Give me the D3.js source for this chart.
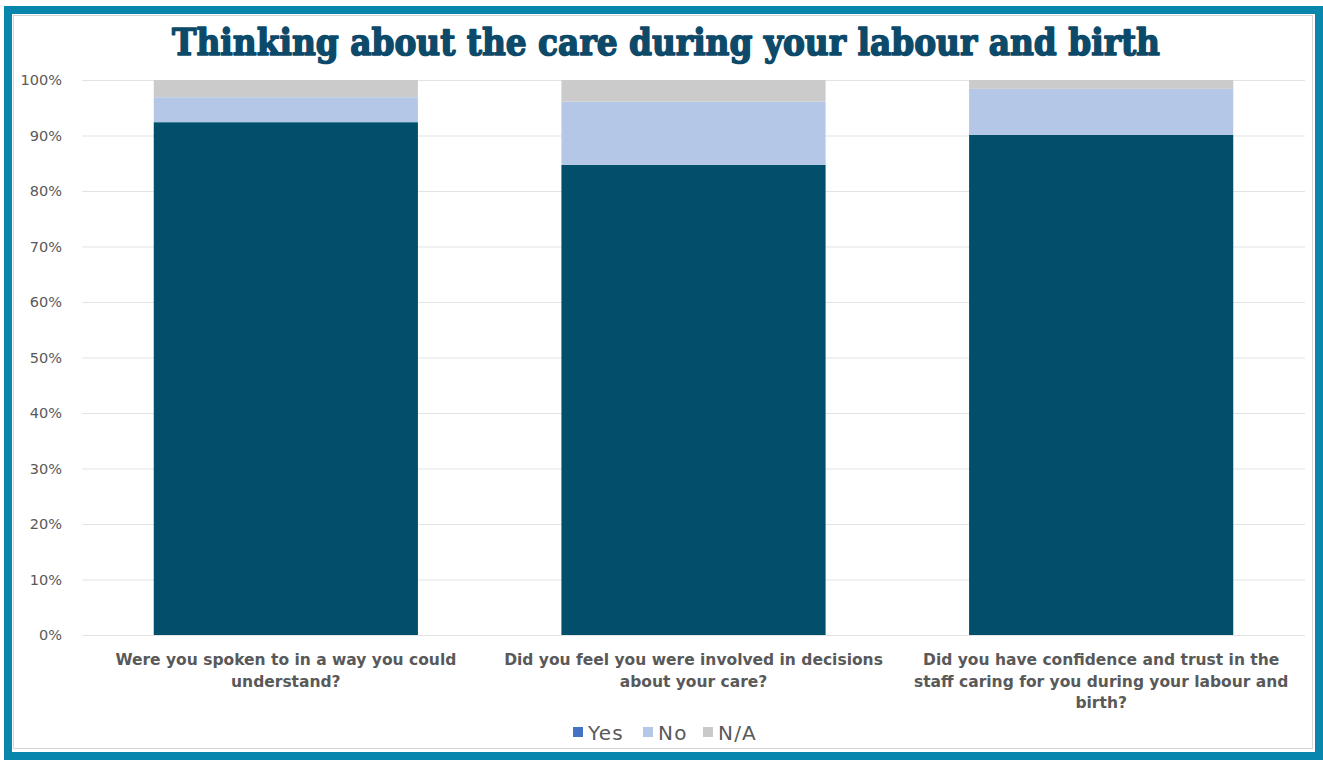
<!DOCTYPE html>
<html>
<head>
<meta charset="utf-8">
<script src="https://cdn.jsdelivr.net/npm/d3@7"></script>
<style>
  html, body { margin: 0; padding: 0; background: #fff; }
  svg { display: block; }
</style>
</head>
<body>
<svg id="chart" width="1323" height="760"></svg>
<script>
// Survey questions and the share of answers for each response
const categories = [
  "Were you spoken to in a way you could understand?",
  "Did you feel you were involved in decisions about your care?",
  "Did you have confidence and trust in the staff caring for you during your labour and birth?"
];
const yesValues = [92.4, 84.7, 90.1];
const noValues  = [4.5, 11.4, 8.3];
const naValues  = [3.1, 3.9, 1.6];
const seriesNames = ["Yes", "No", "N/A"];
const yTicks = [0, 10, 20, 30, 40, 50, 60, 70, 80, 90, 100];

const barColors    = { "Yes": "#014f6b", "No": "#b4c7e7", "N/A": "#cbcbcb" };
const legendColors = { "Yes": "#4472c4", "No": "#b4c7e7", "N/A": "#c9c9c9" };

const W = 1323, H = 760;
const svg = d3.select("#chart");

// Outer frame
svg.append("rect").attr("x", 0).attr("y", 0).attr("width", W).attr("height", H).attr("fill", "#fff");
svg.append("rect")
  .attr("x", 8).attr("y", 10).attr("width", W - 12).attr("height", H - 14)
  .attr("fill", "none").attr("stroke", "#0986ab").attr("stroke-width", 8);
svg.append("rect")
  .attr("x", 13.5).attr("y", 15.5).attr("width", W - 24).attr("height", H - 27)
  .attr("fill", "none").attr("stroke", "#d6d6d6").attr("stroke-width", 1);

// Title
svg.append("text")
  .attr("x", 666).attr("y", 55)
  .attr("text-anchor", "middle")
  .attr("font-family", "'DejaVu Serif', serif")
  .attr("font-weight", "bold")
  .attr("font-size", 37)
  .attr("fill", "#0d4a6a")
  .attr("stroke", "#0d4a6a")
  .attr("stroke-width", 1.6)
  .attr("stroke-linejoin", "round")
  .attr("textLength", 988)
  .attr("lengthAdjust", "spacingAndGlyphs")
  .text("Thinking about the care during your labour and birth");

const margin = { left: 82, right: 18 };
const y = d3.scaleLinear().domain([0, 100]).range([635, 80]);
const x = d3.scaleBand().domain(categories).range([margin.left, W - margin.right]).paddingInner(0.352).paddingOuter(0.176);

const g = svg.append("g");

// Gridlines and y-axis labels
const yAxis = d3.axisLeft(y).tickValues(yTicks).tickSize(-(W - margin.right - margin.left)).tickFormat(d => d + "%");
const ya = g.append("g").attr("transform", `translate(${margin.left},0)`).call(yAxis);
ya.select(".domain").remove();
ya.selectAll(".tick line").attr("stroke", "#e3e3e3").attr("stroke-width", 1);
ya.selectAll(".tick text")
  .attr("x", -20)
  .attr("fill", "#595959")
  .attr("font-family", "'DejaVu Sans', sans-serif")
  .attr("font-size", 14.5);

// Stacked bars
const rows = categories.map((c, i) => ({ cat: c, "Yes": yesValues[i], "No": noValues[i], "N/A": naValues[i] }));
const stacked = d3.stack().keys(seriesNames)(rows);
g.selectAll("g.series").data(stacked).join("g")
  .attr("class", "series")
  .attr("fill", d => barColors[d.key])
  .selectAll("rect").data(d => d).join("rect")
  .attr("x", d => x(d.data.cat))
  .attr("width", x.bandwidth())
  .attr("y", d => y(d[1]))
  .attr("height", d => y(d[0]) - y(d[1]));

// Category labels, wrapped under each bar
const xa = g.append("g").attr("transform", "translate(0,635)")
  .call(d3.axisBottom(x).tickSize(0).tickPadding(0));
xa.select(".domain").remove();
xa.selectAll(".tick text")
  .attr("fill", "#595959")
  .attr("font-family", "'DejaVu Sans', sans-serif")
  .attr("font-weight", "bold")
  .attr("font-size", 15.5)
  .attr("dy", null)
  .attr("y", null)
  .each(function (d) { wrap(d3.select(this), d, 390); });

function wrap(text, str, width) {
  const words = str.split(/\s+/);
  const top = 30, step = 21.5;
  text.text(null);
  let line = [];
  let lineNo = 0;
  let tspan = text.append("tspan").attr("x", 0).attr("y", top);
  for (const w of words) {
    line.push(w);
    tspan.text(line.join(" "));
    if (tspan.node().getComputedTextLength() > width && line.length > 1) {
      line.pop();
      tspan.text(line.join(" "));
      line = [w];
      lineNo++;
      tspan = text.append("tspan").attr("x", 0).attr("y", top + lineNo * step).text(w);
    }
  }
}

// Legend
const legend = svg.append("g").attr("transform", "translate(573,733)");
const legendItems = [{ k: "Yes", dx: 0 }, { k: "No", dx: 70 }, { k: "N/A", dx: 130 }];
legendItems.forEach(it => {
  const lg = legend.append("g").attr("transform", `translate(${it.dx},0)`);
  lg.append("rect").attr("x", 0).attr("y", -6).attr("width", 10).attr("height", 10).attr("fill", legendColors[it.k]);
  lg.append("text").attr("x", 15).attr("y", 0).attr("dy", "0.35em")
    .attr("fill", "#595959")
    .attr("font-family", "'DejaVu Sans', sans-serif")
    .attr("font-size", 20)
    .attr("letter-spacing", 1.2)
    .text(it.k);
});
</script>
</body>
</html>
